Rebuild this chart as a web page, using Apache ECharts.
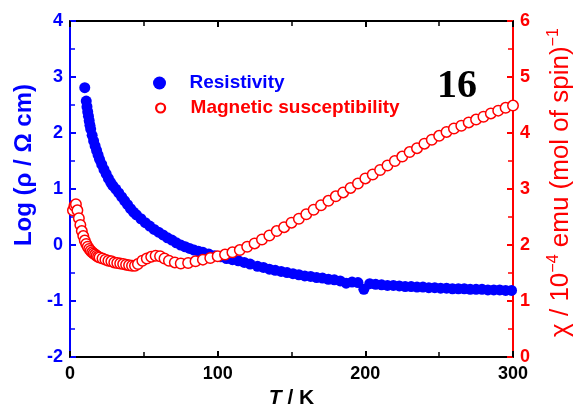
<!DOCTYPE html>
<html>
<head>
<meta charset="utf-8">
<script src="https://cdn.jsdelivr.net/npm/echarts@6/dist/echarts.min.js"></script>
<style>
  html, body { margin: 0; padding: 0; background: #fff; }
  #chart { width: 582px; height: 414px; }
</style>
</head>
<body>
<div id="chart"></div>
<script>
// Resistivity: temperature (K) and log10(rho / Ohm cm)
const resT = [10, 11, 11.5, 12, 12.5, 13, 13.5, 14, 15, 16, 17, 18, 19, 20, 21.5, 23, 24.5, 26, 27.5, 29,
  31, 33, 35, 37, 39, 41, 43, 45, 48, 51, 54, 57, 60, 63, 66, 69, 72, 75, 78, 81, 84, 87, 90, 94, 98,
  102, 106, 110, 114, 118, 122, 127, 131, 135, 139, 143, 147, 151, 155, 159, 163, 167, 171, 175, 179,
  183, 187, 191, 195, 199, 203, 207, 211, 215, 219, 223, 227, 231, 235, 239, 243, 247, 251, 255, 259,
  263, 267, 271, 275, 279, 283, 287, 291, 295, 299];
const resLog = [2.81, 2.57, 2.47, 2.38, 2.30, 2.22, 2.14, 2.07, 1.96, 1.86, 1.77, 1.69, 1.61, 1.53, 1.44, 1.35, 1.27, 1.19, 1.12, 1.06,
  1.00, 0.93, 0.86, 0.79, 0.72, 0.65, 0.59, 0.54, 0.47, 0.40, 0.34, 0.28, 0.23, 0.18, 0.13, 0.09, 0.04, 0.00, -0.03, -0.06, -0.09, -0.11, -0.13, -0.16, -0.19,
  -0.21, -0.24, -0.26, -0.28, -0.31, -0.34, -0.38, -0.40, -0.43, -0.45, -0.47, -0.49, -0.51, -0.53, -0.55, -0.56, -0.58, -0.59, -0.61, -0.62,
  -0.64, -0.68, -0.66, -0.67, -0.79, -0.69, -0.70, -0.71, -0.72, -0.72, -0.73, -0.74, -0.74, -0.75, -0.75, -0.76, -0.76, -0.77, -0.77, -0.78,
  -0.78, -0.78, -0.79, -0.79, -0.79, -0.80, -0.80, -0.80, -0.81, -0.81];

// Magnetic susceptibility: temperature (K) and chi (1e-4 emu per mol of spin)
const chiT = [2, 3, 4, 5, 6, 7, 8, 9, 10, 11, 12, 13, 14, 15, 16, 17, 18, 19, 20, 22, 24, 26, 28, 30, 32, 34, 36, 38, 40, 42, 44,
  46, 49, 52, 55, 58, 61, 64, 67, 71, 75, 80, 85, 90, 95, 100, 105, 110, 115, 120, 125, 130, 135, 140, 145, 150,
  155, 160, 165, 170, 175, 180, 185, 190, 195, 200, 205, 210, 215, 220, 225, 230, 235, 240, 245, 250,
  255, 260, 265, 270, 275, 280, 285, 290, 295, 300];
const chiVal = [2.62, 2.70, 2.73, 2.62, 2.48, 2.36, 2.25, 2.16, 2.08, 2.02, 1.97, 1.93, 1.90, 1.87, 1.85, 1.83, 1.81, 1.79, 1.78, 1.76, 1.74, 1.72, 1.71, 1.69, 1.68, 1.67, 1.66, 1.65, 1.64, 1.63, 1.63,
  1.66, 1.72, 1.76, 1.79, 1.81, 1.80, 1.76, 1.72, 1.69, 1.67, 1.68, 1.71, 1.74, 1.77, 1.80, 1.83, 1.87, 1.91, 1.97, 2.03, 2.10, 2.17, 2.25, 2.32, 2.40,
  2.47, 2.55, 2.63, 2.71, 2.79, 2.87, 2.94, 3.02, 3.10, 3.19, 3.26, 3.34, 3.42, 3.50, 3.58, 3.66, 3.73, 3.81, 3.88, 3.95,
  4.02, 4.08, 4.13, 4.19, 4.24, 4.29, 4.35, 4.40, 4.45, 4.49];

const xTicks = { min: 0, max: 300, step: 100 };
const yLeftTicks = { min: -2, max: 4, step: 1 };
const yRightTicks = { min: 0, max: 6, step: 1 };

const BLUE = '#0000ff';
const RED = '#ff0000';
const SANS = '"Liberation Sans", Arial, sans-serif';

const zip = (xs, ys) => xs.map((x, i) => [x, ys[i]]);

function xAxisDef(pos) {
  return {
    type: 'value', position: pos,
    min: xTicks.min, max: xTicks.max, interval: xTicks.step,
    axisLine: { show: true, onZero: false, lineStyle: { color: '#000', width: 2 } },
    axisTick: { show: true, inside: true, length: 6, lineStyle: { color: '#000', width: 2 } },
    minorTick: { show: true, splitNumber: 2, length: 5, lineStyle: { color: '#000', width: 1.5 } },
    splitLine: { show: false },
    axisLabel: { show: pos === 'bottom', color: '#000', fontFamily: SANS, fontWeight: 'bold', fontSize: 18, margin: 8 }
  };
}

function yAxisDef(pos, ticks, color) {
  return {
    type: 'value', position: pos,
    min: ticks.min, max: ticks.max, interval: ticks.step,
    axisLine: { show: true, onZero: false, lineStyle: { color: color, width: 2 } },
    axisTick: { show: true, inside: true, length: 6, lineStyle: { color: color, width: 2 } },
    minorTick: { show: true, splitNumber: 2, length: 5, lineStyle: { color: color, width: 1.5 } },
    splitLine: { show: false },
    axisLabel: { color: color, fontFamily: SANS, fontWeight: 'bold', fontSize: 18, margin: 7 }
  };
}

const chart = echarts.init(document.getElementById('chart'), null, { renderer: 'canvas' });

const left = yAxisDef('left', yLeftTicks, BLUE);
Object.assign(left, {
  name: 'Log (ρ / Ω cm)', nameLocation: 'middle', nameRotate: 90, nameGap: 23,
  nameTextStyle: { color: BLUE, fontFamily: SANS, fontWeight: 'bold', fontSize: 24, padding: [0, 0, 0, 48] }
});

const right = yAxisDef('right', yRightTicks, RED);
Object.assign(right, {
  name: '{n|χ / 10}{s|−4}{n| emu (mol of spin)}{s|−1}',
  nameLocation: 'middle', nameRotate: 90, nameGap: 33,
  nameTextStyle: {
    color: RED, fontFamily: SANS, padding: [0, 0, 0, 13],
    rich: {
      n: { color: RED, fontFamily: SANS, fontSize: 26, lineHeight: 30 },
      s: { color: RED, fontFamily: SANS, fontSize: 16, lineHeight: 16, verticalAlign: 'top' }
    }
  }
});

const bottom = xAxisDef('bottom');
Object.assign(bottom, {
  name: '{i|T}{n| / K}', nameLocation: 'middle', nameGap: 29,
  nameTextStyle: {
    rich: {
      i: { fontFamily: SANS, fontWeight: 'bold', fontStyle: 'italic', fontSize: 21, color: '#000' },
      n: { fontFamily: SANS, fontWeight: 'bold', fontSize: 21, color: '#000' }
    }
  }
});

chart.setOption({
  animation: false,
  backgroundColor: '#fff',
  title: {
    text: '16', left: 437, top: 67, padding: 0,
    textStyle: { fontFamily: '"Liberation Serif", "Times New Roman", serif', fontWeight: 'bold', fontSize: 40, color: '#000' }
  },
  legend: [
    {
      data: [{ name: 'Resistivity', textStyle: { color: BLUE } }],
      left: 153, top: 72, padding: 0, icon: 'circle',
      itemWidth: 50, itemHeight: 13,
      textStyle: { fontFamily: SANS, fontWeight: 'bold', fontSize: 19, lineHeight: 22 }
    },
    {
      data: [{ name: 'Magnetic susceptibility', textStyle: { color: RED } }],
      left: 155, top: 97, padding: 0, icon: 'circle',
      itemWidth: 50, itemHeight: 9,
      itemStyle: { borderWidth: 2.2 },
      textStyle: { fontFamily: SANS, fontWeight: 'bold', fontSize: 19, lineHeight: 22 }
    }
  ],
  grid: { left: 70, right: 64, top: 21, bottom: 55, containLabel: false },
  xAxis: [bottom, xAxisDef('top')],
  yAxis: [left, right],
  series: [
    {
      name: 'Resistivity', type: 'scatter', xAxisIndex: 0, yAxisIndex: 0,
      data: zip(resT, resLog), symbol: 'circle', symbolSize: 11,
      itemStyle: { color: BLUE, opacity: 1 }, z: 2
    },
    {
      name: 'Magnetic susceptibility', type: 'scatter', xAxisIndex: 0, yAxisIndex: 1,
      data: zip(chiT, chiVal), symbol: 'circle', symbolSize: 10.5,
      itemStyle: { color: '#fff', borderColor: RED, borderWidth: 1.5, opacity: 1 }, z: 3
    }
  ]
});
</script>
</body>
</html>
